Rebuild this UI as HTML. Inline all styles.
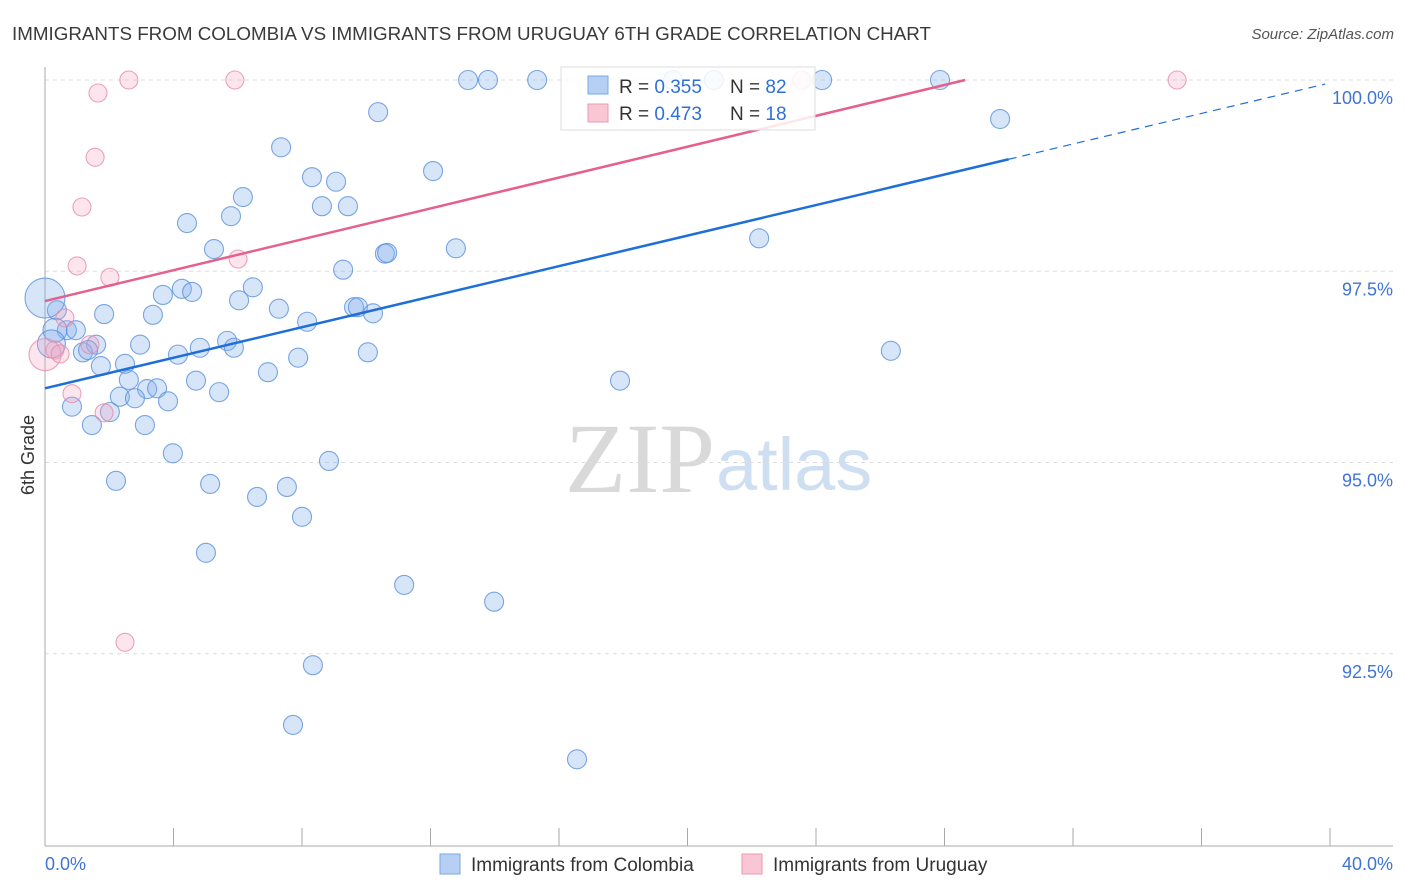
<!DOCTYPE html>
<html><head><meta charset="utf-8"><style>
body{margin:0;background:#fff;font-family:"Liberation Sans",sans-serif;}
svg{display:block}
</style></head><body>
<svg id="chart" width="1406" height="892">
<text x="12" y="40" font-size="18.8" fill="#3a3a3a">IMMIGRANTS FROM COLOMBIA VS IMMIGRANTS FROM URUGUAY 6TH GRADE CORRELATION CHART</text>
<text x="1394" y="39" font-size="15" fill="#555" text-anchor="end" font-style="italic">Source: ZipAtlas.com</text>
<text x="34" y="455" font-size="18" fill="#333" text-anchor="middle" transform="rotate(-90 34 455)">6th Grade</text>
<text x="715" y="492" font-size="100" fill="#d9d9d9" text-anchor="end" font-family="Liberation Serif,serif">ZIP</text>
<text x="716" y="490" font-size="74" fill="#cfdff2">atlas</text>
<g id="grid"></g><g id="axes"></g><g id="pts"></g><g id="lines"></g>
<g>
<rect x="561" y="67" width="254" height="63" fill="rgba(255,255,255,0.85)" stroke="#ddd"/>
<rect x="588" y="76" width="20" height="18" fill="#b5d0f2" stroke="#7aa8e6"/>
<rect x="588" y="104" width="20" height="18" fill="#f8c6d5" stroke="#ec9ab4"/>
<text x="619" y="93" font-size="19" fill="#333">R = <tspan fill="#2f6fd6">0.355</tspan></text>
<text x="730" y="93" font-size="19" fill="#333">N = <tspan fill="#2f6fd6">82</tspan></text>
<text x="619" y="120" font-size="19" fill="#333">R = <tspan fill="#2f6fd6">0.473</tspan></text>
<text x="730" y="120" font-size="19" fill="#333">N = <tspan fill="#2f6fd6"> 18</tspan></text>
</g>
<g>
<rect x="440" y="854" width="20" height="20" fill="#b5d0f2" stroke="#7aa8e6"/>
<text x="471" y="871" font-size="19" fill="#333">Immigrants from Colombia</text>
<rect x="742" y="854" width="20" height="20" fill="#f8c6d5" stroke="#ec9ab4"/>
<text x="773" y="871" font-size="19" fill="#333">Immigrants from Uruguay</text>
</g>
</svg>
<script>
const xTickLabels=["0.0%","40.0%"];
const yTicks=[92.5,95,97.5,100];
const yTickLabels=["92.5%","95.0%","97.5%","100.0%"];
const colombiaX=[13.17,13.79,15.32,19.55,20.82,24.19,27.86,10.37,29.73,7.35,12.08,8.31,9.06,6.16,8.62,9.43,4.42,5.79,5.26,12.79,10.58,10.65,22.23,9.28,4.26,4.58,3.67,6.47,6.04,7.28,9.62,9.74,10.21,1.84,3.36,8.16,0.37,0.68,0.96,0,5.67,2.96,1.59,4.82,5.88,1.18,1.34,4.14,7.88,10.05,26.33,2.49,1.74,6.94,2.61,4.70,17.90,3.18,3.49,2.33,2.80,5.42,3.83,0.84,2.02,1.46,3.11,3.98,8.84,2.21,5.14,7.53,6.60,8.00,5.01,11.18,13.98,8.34,7.72,16.56,0.31,0.2];
const colombiaY=[100,100,100,100,100,100,100,99.58,99.49,99.12,98.81,98.73,98.67,98.47,98.35,98.35,98.13,98.22,97.79,97.80,97.73,97.74,97.93,97.52,97.27,97.23,97.19,97.29,97.12,97.01,97.03,97.03,96.95,96.94,96.93,96.84,96.99,96.73,96.73,97.15,96.59,96.54,96.54,96.50,96.50,96.44,96.47,96.41,96.37,96.44,96.46,96.29,96.26,96.18,96.08,96.07,96.07,95.96,95.97,95.86,95.84,95.92,95.80,95.73,95.66,95.49,95.49,95.12,95.02,94.76,94.72,94.68,94.55,94.29,93.82,93.40,93.18,92.35,91.57,91.12,96.73,96.55];
const colombiaR=[9.5,9.5,9.5,9.5,9.5,9.5,9.5,9.5,9.5,9.5,9.5,9.5,9.5,9.5,9.5,9.5,9.5,9.5,9.5,9.5,9.5,9.5,9.5,9.5,9.5,9.5,9.5,9.5,9.5,9.5,9.5,9.5,9.5,9.5,9.5,9.5,9.5,9.5,9.5,20,9.5,9.5,9.5,9.5,9.5,9.5,9.5,9.5,9.5,9.5,9.5,9.5,9.5,9.5,9.5,9.5,9.5,9.5,9.5,9.5,9.5,9.5,9.5,9.5,9.5,9.5,9.5,9.5,9.5,9.5,9.5,9.5,9.5,9.5,9.5,9.5,9.5,9.5,9.5,9.5,12,14];
const uruguayX=[2.61,5.91,23.56,35.24,1.65,1.56,1.15,1.00,2.02,6.01,0.62,0.31,0,0.47,0.84,1.84,2.49,1.40];
const uruguayY=[100,100,100,100,99.83,98.99,98.34,97.57,97.42,97.66,96.89,96.47,96.41,96.42,95.90,95.65,92.65,96.54];
const uruguayR=[9,9,9,9,9,9,9,9,9,9,9,9,16,9,9,9,9,9];
const blueTrend=[95.97,0.0998];
const pinkTrend=[97.11,0.1009];
const NS="http://www.w3.org/2000/svg";
const sx=v=>45+v*32.125, sy=v=>80+(100-v)*76.5;
function mk(t,a,p){const e=document.createElementNS(NS,t);for(const k in a)e.setAttribute(k,a[k]);p.appendChild(e);return e;}
const grid=document.getElementById('grid'),axes=document.getElementById('axes'),pts=document.getElementById('pts'),lines=document.getElementById('lines');
yTicks.forEach((v,i)=>{
 const l=mk('line',{x1:45,x2:1393,y1:sy(v),y2:sy(v),stroke:'#ddd','stroke-dasharray':'4,4'},grid);
 
 
 const t=mk('text',{x:1393,y:sy(v)+24,'text-anchor':'end','font-size':18,fill:'#3f74d6'},grid);
 
 
 t.textContent=yTickLabels[i];
});
const ax=mk('line',{x1:45,x2:45,y1:67,y2:846,stroke:'#aaa'},axes);


const bx=mk('line',{x1:45,x2:1393,y1:846,y2:846,stroke:'#aaa'},axes);


for(let i=0;i<=10;i++){const tk=mk('line',{x1:sx(i*4),x2:sx(i*4),y1:828,y2:846,stroke:'#aaa'},axes);
 
 }
[[0,'start'],[40,'end']].forEach((d,i)=>{const t=mk('text',{x:i?1393:45,y:870,'text-anchor':d[1],'font-size':18,fill:'#3f74d6'},axes);
 
 
 t.textContent=xTickLabels[i];});
colombiaX.forEach((x,i)=>{const c=mk('circle',{cx:sx(x),cy:sy(colombiaY[i]),r:colombiaR[i],fill:'rgba(130,175,235,0.32)',stroke:'rgba(90,145,220,0.8)','stroke-width':1.1},pts);
 
 });
uruguayX.forEach((x,i)=>{const c=mk('circle',{cx:sx(x),cy:sy(uruguayY[i]),r:uruguayR[i],fill:'rgba(245,160,190,0.28)',stroke:'rgba(230,140,170,0.8)','stroke-width':1.1},pts);
 
 });
const bf=x=>blueTrend[0]+blueTrend[1]*x, pf=x=>pinkTrend[0]+pinkTrend[1]*x;
const b1=mk('line',{x1:sx(0),y1:sy(bf(0)),x2:sx(30),y2:sy(bf(30)),stroke:'#1f6fd8','stroke-width':2.5},lines);


const b2=mk('line',{x1:sx(30),y1:sy(bf(30)),x2:sx(39.85),y2:sy(bf(39.85)),stroke:'#1f6fd8','stroke-width':1.2,'stroke-dasharray':'8,6'},lines);


const xe=(100-pinkTrend[0])/pinkTrend[1];
const p1=mk('line',{x1:sx(0),y1:sy(pf(0)),x2:sx(xe),y2:sy(pf(xe)),stroke:'#e5608c','stroke-width':2.5},lines);


</script>
</body></html>
